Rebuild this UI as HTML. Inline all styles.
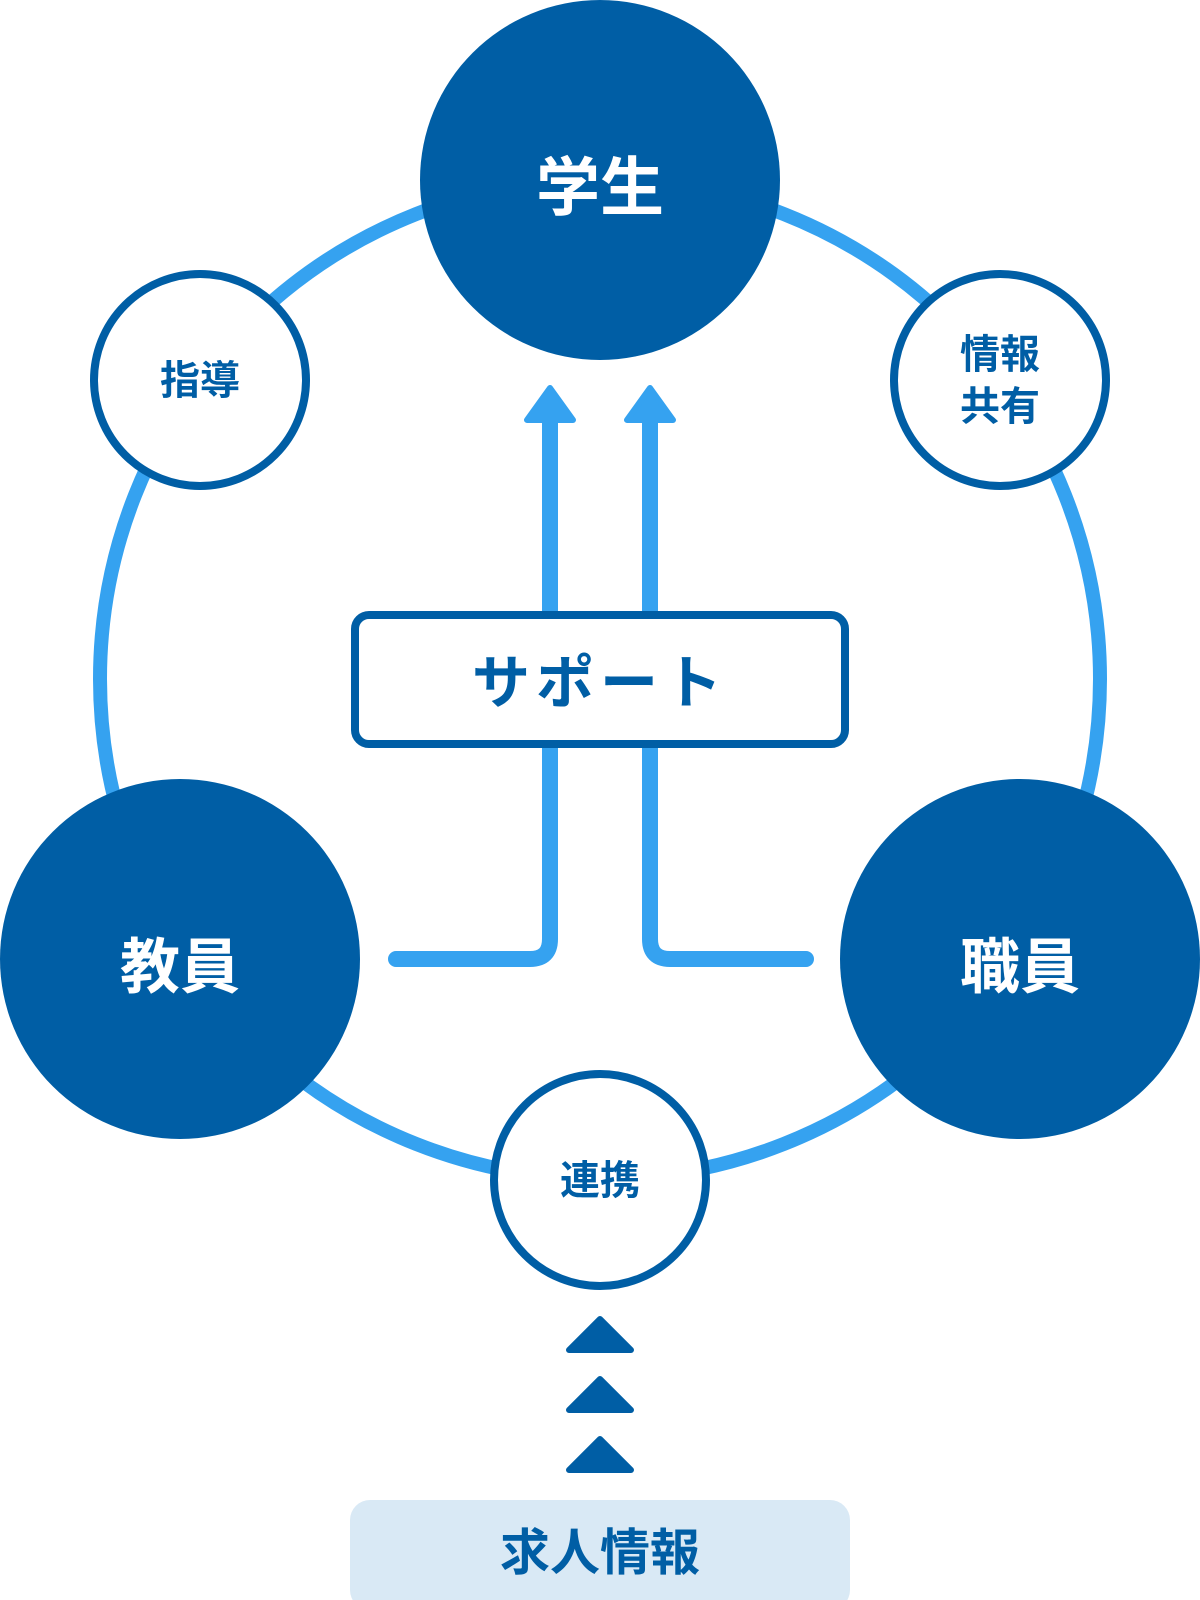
<!DOCTYPE html>
<html><head><meta charset="utf-8"><style>
html,body{margin:0;padding:0;background:#fff;}
svg{display:block}
text{font-family:"Liberation Sans","Noto Sans CJK JP",sans-serif;font-weight:700;}
</style></head><body>
<svg width="1200" height="1600" viewBox="0 0 1200 1600" xmlns="http://www.w3.org/2000/svg">
<circle cx="600" cy="679" r="500" fill="none" stroke="#35a2f0" stroke-width="14"/>
<circle cx="600" cy="180" r="180" fill="#005ea5"/>
<text x="600" y="210" font-size="64" fill="#fff" text-anchor="middle">学生</text>
<circle cx="200" cy="380" r="106" fill="#fff" stroke="#005ea5" stroke-width="8"/>
<text x="200" y="394" font-size="40" fill="#005ea5" text-anchor="middle">指導</text>
<circle cx="1000" cy="380" r="106" fill="#fff" stroke="#005ea5" stroke-width="8"/>
<text x="1000" y="368" font-size="40" fill="#005ea5" text-anchor="middle">情報</text>
<text x="1000" y="420" font-size="40" fill="#005ea5" text-anchor="middle">共有</text>
<circle cx="180" cy="959" r="180" fill="#005ea5"/>
<text x="180" y="988" font-size="60" fill="#fff" text-anchor="middle">教員</text>
<circle cx="1020" cy="959" r="180" fill="#005ea5"/>
<text x="1020" y="988" font-size="60" fill="#fff" text-anchor="middle">職員</text>
<circle cx="600" cy="1180" r="106" fill="#fff" stroke="#005ea5" stroke-width="8"/>
<text x="600" y="1194" font-size="40" fill="#005ea5" text-anchor="middle">連携</text>
<g fill="none" stroke="#35a2f0" stroke-width="16" stroke-linecap="round">
<path d="M396 959 H530 Q550 959 550 939 V418"/>
<path d="M806 959 H670 Q650 959 650 939 V418"/>
</g>
<g fill="#35a2f0" stroke="#35a2f0" stroke-width="6" stroke-linejoin="round">
<polygon points="550,388 527,420 573,420"/>
<polygon points="650,388 627,420 673,420"/>
</g>
<rect x="355" y="615" width="490" height="129" rx="14" fill="#fff" stroke="#005ea5" stroke-width="8"/>
<text x="600" y="703" font-size="58" fill="#005ea5" text-anchor="middle" letter-spacing="6">サポート</text>
<g fill="#005ea5" stroke="#005ea5" stroke-width="6" stroke-linejoin="round">
<polygon points="600,1319 569,1350 631,1350"/>
<polygon points="600,1379 569,1410 631,1410"/>
<polygon points="600,1439 569,1470 631,1470"/>
</g>
<rect x="350" y="1500" width="500" height="110" rx="20" fill="#d9e9f5"/>
<text x="600" y="1570" font-size="50" fill="#005ea5" text-anchor="middle">求人情報</text>
</svg>
</body></html>
